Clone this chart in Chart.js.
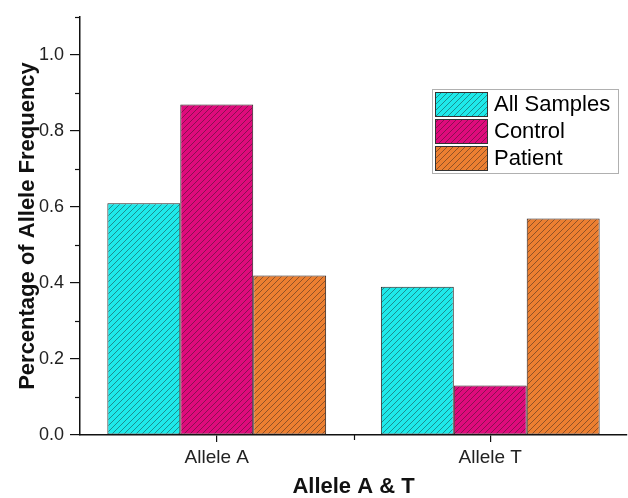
<!DOCTYPE html>
<html>
<head>
<meta charset="utf-8">
<script src="https://cdn.jsdelivr.net/npm/chart.js@4/dist/chart.umd.min.js"></script>
<style>
  body { margin: 0; background: #fff; }
  #wrap { width: 628px; height: 498px; }
</style>
</head>
<body>
<div id="wrap"><canvas id="chart" width="628" height="498"></canvas></div>
<script>
var categories = ["Allele A", "Allele T"];
var seriesNames = ["All Samples", "Control", "Patient"];
var allSamples = [0.61, 0.39];
var control = [0.87, 0.13];
var patient = [0.42, 0.57];
var seriesColors = ["#1ee9ea", "#df0b7c", "#ec7f31"];

var FONT = "'Liberation Sans', Arial, sans-serif";

// diagonal hatch over a solid fill
function makeHatch(color) {
    var c = document.createElement("canvas");
    c.width = 6; c.height = 6;
    var g = c.getContext("2d");
    g.fillStyle = color;
    g.fillRect(0, 0, 6, 6);
    g.strokeStyle = "rgba(25,25,25,0.55)";
    g.lineWidth = 0.8;
    g.beginPath();
    g.moveTo(0, 6); g.lineTo(6, 0);
    g.moveTo(-1, 1); g.lineTo(1, -1);
    g.moveTo(5, 7); g.lineTo(7, 5);
    g.stroke();
    return g.createPattern(c, "repeat");
}

var patterns = seriesColors.map(makeHatch);

// minor ticks + legend box
var extras = {
    id: "extras",
    afterDraw: function(chart) {
        var ctx = chart.ctx;
        var y = chart.scales.y, x = chart.scales.x;
        ctx.save();
        ctx.strokeStyle = "#111";
        ctx.lineWidth = 1.2;
        [0.1, 0.3, 0.5, 0.7, 0.9, 1.1].forEach(function(v) {
            var py = Math.round(y.getPixelForValue(v)) + 0.5;
            ctx.beginPath();
            ctx.moveTo(x.left - 5, py);
            ctx.lineTo(x.left, py);
            ctx.stroke();
        });
        var mx = Math.round((x.getPixelForTick(0) + x.getPixelForTick(1)) / 2) + 0.5;
        ctx.beginPath();
        ctx.moveTo(mx, y.bottom);
        ctx.lineTo(mx, y.bottom + 5);
        ctx.stroke();

        // legend
        var lx = 432, ly = 89, lw = 186, lh = 84;
        ctx.strokeStyle = "#b0b0b0";
        ctx.lineWidth = 1;
        ctx.strokeRect(lx + 0.5, ly + 0.5, lw, lh);
        ctx.font = "22px " + FONT;
        ctx.textBaseline = "middle";
        ctx.textAlign = "left";
        chart.data.datasets.forEach(function(ds, i) {
            var ry = ly + 3 + i * 27;
            ctx.fillStyle = ds.backgroundColor;
            ctx.fillRect(lx + 3, ry, 52, 24);
            ctx.strokeStyle = "#333";
            ctx.strokeRect(lx + 3.5, ry + 0.5, 52, 24);
            ctx.fillStyle = "#000";
            ctx.fillText(ds.label, lx + 62, ry + 13);
        });
        ctx.restore();
    }
};

var chartData = {
    type: "bar",
    data: {
        labels: categories,
        datasets: [allSamples, control, patient].map(function(vals, i) {
            return {
                label: seriesNames[i],
                data: vals,
                backgroundColor: patterns[i],
                borderColor: "#2a2020",
                borderWidth: 1,
                borderSkipped: false,
                categoryPercentage: 0.8,
                barPercentage: 1.0
            };
        })
    },
    options: {
        responsive: false,
        animation: false,
        layout: { padding: { top: 17, right: 1, left: 0, bottom: 0 } },
        plugins: { legend: { display: false }, tooltip: { enabled: false } },
        scales: {
            x: {
                afterFit: function(s) { s.height = 63; },
                grid: { offset: false, drawOnChartArea: false, color: "#111", tickLength: 7, lineWidth: 1.2 },
                border: { display: true, color: "#111", width: 1.5 },
                ticks: { font: { family: FONT, size: 19 }, color: "#222", padding: 4 },
                title: {
                    display: true, text: "Allele A & T",
                    font: { family: FONT, size: 22, weight: "bold" }, color: "#111",
                    padding: { top: 0, bottom: -2 }
                }
            },
            y: {
                min: 0, max: 1.1,
                afterFit: function(s) { s.width = 80; },
                afterBuildTicks: function(s) {
                    s.ticks = s.ticks.filter(function(t) { return t.value < 1.05; });
                },
                grid: { drawOnChartArea: false, color: "#111", tickLength: 10, lineWidth: 1.2 },
                border: { display: true, color: "#111", width: 1.5 },
                ticks: {
                    stepSize: 0.2, font: { family: FONT, size: 18 }, color: "#222", padding: 6,
                    callback: function(v) { return v.toFixed(1); }
                },
                title: {
                    display: true, text: "Percentage of Allele Frequency",
                    font: { family: FONT, size: 22, weight: "bold" }, color: "#111",
                    padding: { top: 15, bottom: 0 }
                }
            }
        }
    },
    plugins: [extras]
};

var myChart = new Chart(document.getElementById("chart").getContext("2d"), chartData);
</script>
</body>
</html>
